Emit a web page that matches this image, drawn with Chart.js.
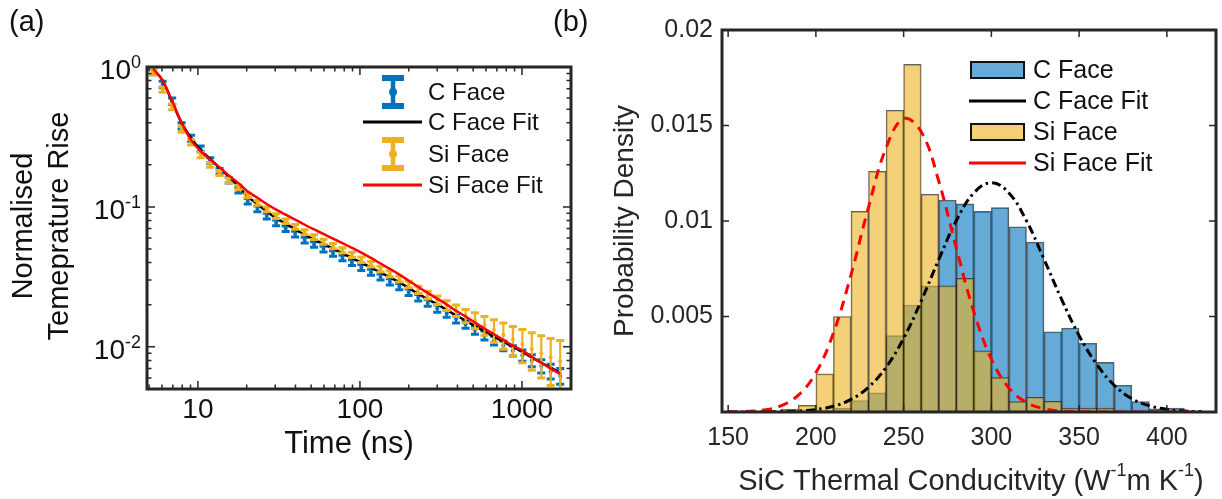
<!DOCTYPE html>
<html>
<head>
<meta charset="utf-8">
<script src="https://cdn.jsdelivr.net/npm/chart.js@4.4.1/dist/chart.umd.min.js"></script>
<style>
  html, body { margin: 0; padding: 0; background: #fff; }
  #wrap { position: relative; width: 1222px; height: 499px; overflow: hidden; }
  #chartA { position: absolute; left: 0; top: 0; }
  #chartB { position: absolute; left: 540px; top: 0; }
</style>
</head>
<body>
<div id="wrap">
  <canvas id="chartA" width="600" height="499"></canvas>
  <canvas id="chartB" width="682" height="499"></canvas>
</div>
<script>
// ---------- panel (a): normalised temperature rise ----------
const timeNs = [5.3, 6.06, 6.94, 7.93, 9.08, 10.4, 11.9, 13.6, 15.5, 17.8,
  20.3, 23.3, 26.6, 30.4, 34.8, 39.8, 45.6, 52.1, 59.6, 68.2,
  78.0, 89.3, 102, 117, 134, 153, 175, 200, 229, 262,
  300, 343, 392, 449, 513, 587, 672, 768, 879, 1006,
  1150, 1316, 1505, 1722];
const cFaceRise = [0.93, 0.75, 0.57, 0.38, 0.31, 0.26, 0.215, 0.18, 0.155, 0.132,
  0.110, 0.097, 0.086, 0.077, 0.070, 0.064, 0.058, 0.054, 0.050, 0.0465,
  0.0432, 0.0400, 0.0370, 0.0342, 0.0316, 0.0292, 0.0270, 0.0246, 0.0225, 0.0206,
  0.0188, 0.0173, 0.0158, 0.0145, 0.0132, 0.0121, 0.0111, 0.0102, 0.0094, 0.0087,
  0.0080, 0.0073, 0.0067, 0.0062];
const cFaceErr = [0.05, 0.04, 0.03, 0.02, 0.015, 0.012, 0.01, 0.008, 0.007, 0.006,
  0.005, 0.0045, 0.004, 0.0035, 0.0032, 0.003, 0.0027, 0.0025, 0.0023, 0.0021,
  0.002, 0.0019, 0.0018, 0.0017, 0.0016, 0.0015, 0.0014, 0.0013, 0.0012, 0.0011,
  0.0011, 0.001, 0.001, 0.0009, 0.0009, 0.0009, 0.0008, 0.0008, 0.0008, 0.0008,
  0.0008, 0.0008, 0.0008, 0.0008];
const siFaceRise = [0.92, 0.69, 0.52, 0.36, 0.29, 0.235, 0.2, 0.175, 0.155, 0.138,
  0.121, 0.107, 0.096, 0.086, 0.079, 0.072, 0.066, 0.061, 0.0565, 0.0525,
  0.049, 0.0455, 0.042, 0.039, 0.036, 0.0332, 0.0306, 0.028, 0.0256, 0.0235,
  0.0216, 0.0198, 0.0182, 0.0167, 0.0155, 0.0143, 0.0132, 0.0122, 0.0113, 0.0105,
  0.0097, 0.0090, 0.0084, 0.0079];
const siFaceErr = [0.04, 0.03, 0.025, 0.018, 0.013, 0.01, 0.008, 0.007, 0.006, 0.005,
  0.0045, 0.004, 0.0037, 0.0034, 0.003, 0.0028, 0.0026, 0.0024, 0.0023, 0.0022,
  0.0021, 0.002, 0.0019, 0.0018, 0.0017, 0.0016, 0.0015, 0.0015, 0.0015, 0.0015,
  0.0015, 0.0016, 0.0017, 0.0018, 0.002, 0.0022, 0.0024, 0.0026, 0.0027, 0.0028,
  0.0029, 0.0030, 0.0031, 0.0032];
const cFaceFitRise = [0.97, 0.80, 0.56, 0.40, 0.31, 0.255, 0.22, 0.19, 0.165, 0.140,
  0.1185, 0.1047, 0.0928, 0.0832, 0.0760, 0.0693, 0.0632, 0.0585, 0.0543, 0.0503,
  0.0467, 0.0432, 0.0400, 0.0369, 0.0340, 0.0314, 0.0289, 0.0263, 0.0239, 0.0219,
  0.0201, 0.0184, 0.0168, 0.0154, 0.0141, 0.0129, 0.0118, 0.0109, 0.0100, 0.0092,
  0.0084, 0.0077, 0.0071, 0.0065];
const siFaceFitRise = [0.97, 0.80, 0.57, 0.40, 0.30, 0.25, 0.218, 0.192, 0.168, 0.148,
  0.129, 0.1162, 0.1049, 0.0957, 0.0882, 0.0811, 0.0746, 0.0690, 0.0641, 0.0594,
  0.0551, 0.0510, 0.0472, 0.0432, 0.0394, 0.0361, 0.0329, 0.0297, 0.0268, 0.0243,
  0.0221, 0.0201, 0.0181, 0.0165, 0.0149, 0.0135, 0.0123, 0.0112, 0.0102, 0.0094,
  0.0085, 0.0077, 0.0070, 0.0064];
const xTicksA = [10, 100, 1000];
const yTicksA = [1, 0.1, 0.01];
const yTickExpA = ["0", "-1", "-2"];

// ---------- panel (b): thermal conductivity histograms ----------
const binCenters = [185, 195, 205, 215, 225, 235, 245, 255, 265, 275, 285, 295,
  305, 315, 325, 335, 345, 355, 365, 375, 385, 395, 405];
const cFaceDensity = [0, 0, 0.0001, 0.0002, 0.0006, 0.001, 0.004, 0.0056, 0.0066, 0.0111,
  0.0109, 0.0105, 0.0107, 0.0097, 0.0089, 0.0042, 0.0044, 0.0036, 0.0026, 0.0014,
  0.00055, 0.00016, 0.0002];
const siFaceDensity = [0.00015, 0.00035, 0.002, 0.005, 0.0105, 0.0126, 0.0158, 0.0182, 0.0114, 0.0066,
  0.007, 0.0032, 0.0018, 0.00054, 0.00077, 0.00056, 0.0002, 0.0002, 0.0002, 0,
  0, 0, 0];
const fitK = [150, 160, 170, 180, 190, 200, 210, 220, 230, 240, 250, 260, 270, 280,
  290, 300, 310, 320, 330, 340, 350, 360, 370, 380, 390, 400, 410, 420];
const cFaceFitDensity = [0, 0, 0.00001, 0.00002, 0.00005, 0.00013, 0.0003, 0.00066, 0.0013, 0.00234,
  0.00386, 0.00581, 0.00798, 0.01001, 0.01147, 0.012, 0.01147, 0.01001, 0.0080, 0.0059,
  0.0040, 0.0025, 0.0014, 0.0007, 0.00033, 0.00014, 0.00005, 0.00002];
const siFaceFitDensity = [0.00001, 0.00003, 0.0001, 0.00032, 0.00088, 0.00205, 0.00414, 0.00718, 0.01073, 0.01383,
  0.01535, 0.01468, 0.01209, 0.00859, 0.00525, 0.00277, 0.00126, 0.00049, 0.00017, 0.00005,
  0.00001, 0, 0, 0, 0, 0, 0, 0];
const xTicksB = [150, 200, 250, 300, 350, 400];
const yTicksB = [0.005, 0.01, 0.015, 0.02];
const yTickLabelsB = ["0.005", "0.01", "0.015", "0.02"];

const FONT = '"Liberation Sans", Arial, Helvetica, sans-serif';
const AXIS = "#262626";
const BLUE = "#0072BD";
const YELLOW = "#EDB120";

function pairs(xs, ys) {
  return xs.map((x, i) => ({ x: x, y: ys[i] }));
}

// draw a vertical error bar set for one dataset
function drawErrorBars(chart, ds) {
  const { ctx, chartArea: a, scales: { x, y } } = chart;
  ctx.save();
  ctx.beginPath();
  ctx.rect(a.left, a.top, a.right - a.left, a.bottom - a.top);
  ctx.clip();
  ctx.strokeStyle = ds.borderColor;
  ctx.fillStyle = ds.borderColor;
  ds.data.forEach((p, i) => {
    const px = x.getPixelForValue(p.x);
    const lo = y.getPixelForValue(Math.max(p.y - ds.errors[i], 1e-5));
    const hi = y.getPixelForValue(p.y + ds.errors[i]);
    ctx.lineWidth = 2.2;
    ctx.beginPath();
    ctx.moveTo(px, lo); ctx.lineTo(px, hi);
    ctx.stroke();
    ctx.lineWidth = 3;
    ctx.beginPath();
    ctx.moveTo(px - 4, lo); ctx.lineTo(px + 4, lo);
    ctx.moveTo(px - 4, hi); ctx.lineTo(px + 4, hi);
    ctx.stroke();
    ctx.beginPath();
    ctx.arc(px, y.getPixelForValue(p.y), 2, 0, Math.PI * 2);
    ctx.fill();
  });
  ctx.restore();
}

function errIcon(ctx, cx, cy, color) {
  ctx.save();
  ctx.strokeStyle = color; ctx.fillStyle = color;
  ctx.lineWidth = 4.5;
  ctx.beginPath();
  ctx.moveTo(cx, cy - 15); ctx.lineTo(cx, cy + 15);
  ctx.stroke();
  ctx.lineWidth = 6;
  ctx.beginPath();
  ctx.moveTo(cx - 11, cy - 14); ctx.lineTo(cx + 11, cy - 14);
  ctx.moveTo(cx - 11, cy + 14); ctx.lineTo(cx + 11, cy + 14);
  ctx.stroke();
  ctx.beginPath();
  ctx.arc(cx, cy, 4, 0, Math.PI * 2);
  ctx.fill();
  ctx.restore();
}

function logTickValues(min, max) {
  const out = [];
  for (let k = Math.floor(Math.log10(min)); k <= Math.ceil(Math.log10(max)); k++) {
    for (let m = 1; m <= 9; m++) {
      const v = m * Math.pow(10, k);
      if (v >= min * 0.999 && v <= max * 1.001) out.push({ v: v, major: m === 1 });
    }
  }
  return out;
}

const panelAPlugin = {
  id: "panelA",
  afterDatasetDraw(chart, args) {
    const ds = chart.data.datasets[args.index];
    if (ds.errors) drawErrorBars(chart, ds);
  },
  afterDraw(chart) {
    const { ctx, chartArea: a, scales: { x, y } } = chart;
    ctx.save();
    ctx.strokeStyle = AXIS;
    ctx.lineWidth = 1.5;
    // inward ticks on all four sides
    logTickValues(x.min, x.max).forEach(t => {
      const px = x.getPixelForValue(t.v);
      const len = t.major ? 8 : 4.5;
      ctx.beginPath();
      ctx.moveTo(px, a.bottom); ctx.lineTo(px, a.bottom - len);
      ctx.moveTo(px, a.top); ctx.lineTo(px, a.top + len);
      ctx.stroke();
    });
    logTickValues(y.min, y.max).forEach(t => {
      const py = y.getPixelForValue(t.v);
      const len = t.major ? 8 : 4.5;
      ctx.beginPath();
      ctx.moveTo(a.left, py); ctx.lineTo(a.left + len, py);
      ctx.moveTo(a.right, py); ctx.lineTo(a.right - len, py);
      ctx.stroke();
    });
    ctx.lineWidth = 3;
    ctx.strokeRect(a.left, a.top, a.right - a.left, a.bottom - a.top);

    // tick labels
    ctx.fillStyle = "#111";
    ctx.font = "28px " + FONT;
    ctx.textAlign = "center";
    ctx.textBaseline = "alphabetic";
    xTicksA.forEach(v => ctx.fillText(String(v), x.getPixelForValue(v), a.bottom + 29));
    yTicksA.forEach((v, i) => {
      const py = y.getPixelForValue(v);
      ctx.font = "18px " + FONT;
      const ws = ctx.measureText(yTickExpA[i]).width;
      ctx.font = "28px " + FONT;
      const wb = ctx.measureText("10").width;
      const right = a.left - 6;
      ctx.textAlign = "left";
      ctx.fillText("10", right - ws - wb, py + 12);
      ctx.font = "18px " + FONT;
      ctx.fillText(yTickExpA[i], right - ws, py + 1);
    });

    // axis titles
    ctx.font = "31px " + FONT;
    ctx.textAlign = "center";
    ctx.fillText("Time (ns)", (a.left + a.right) / 2 - 10, 453);
    ctx.save();
    ctx.translate(0, 226);
    ctx.rotate(-Math.PI / 2);
    ctx.font = "29px " + FONT;
    ctx.textBaseline = "middle";
    ctx.fillText("Normalised", 0, 24);
    ctx.fillText("Temeprature Rise", 0, 60);
    ctx.restore();

    // panel label
    ctx.font = "29px " + FONT;
    ctx.textAlign = "left";
    ctx.textBaseline = "middle";
    ctx.fillText("(a)", 9, 23);

    // legend
    const ds = chart.data.datasets;
    const rows = [92, 122, 154, 185];
    ctx.font = "24px " + FONT;
    ds.forEach((d, i) => {
      const cy = rows[i];
      if (d.errors) {
        errIcon(ctx, 393, cy, d.borderColor);
      } else {
        ctx.strokeStyle = d.borderColor;
        ctx.lineWidth = 3;
        ctx.beginPath();
        ctx.moveTo(363, cy); ctx.lineTo(422, cy);
        ctx.stroke();
      }
      ctx.fillStyle = "#111";
      ctx.fillText(d.label, 428, cy + 1);
    });
    ctx.restore();
  }
};

new Chart(document.getElementById("chartA"), {
  type: "line",
  data: {
    datasets: [
      { label: "C Face", data: pairs(timeNs, cFaceRise), errors: cFaceErr,
        showLine: false, pointRadius: 0, borderColor: BLUE, order: 4 },
      { label: "C Face Fit", data: pairs(timeNs, cFaceFitRise),
        borderColor: "#000000", borderWidth: 2.5, pointRadius: 0, tension: 0.35, order: 3 },
      { label: "Si Face", data: pairs(timeNs, siFaceRise), errors: siFaceErr,
        showLine: false, pointRadius: 0, borderColor: YELLOW, order: 2 },
      { label: "Si Face Fit", data: pairs(timeNs, siFaceFitRise),
        borderColor: "#FF0000", borderWidth: 2.5, pointRadius: 0, tension: 0.35, order: 1 }
    ]
  },
  options: {
    responsive: false,
    animation: false,
    events: [],
    layout: { padding: { top: 67, right: 29, left: 0, bottom: 0 } },
    plugins: { legend: { display: false }, tooltip: { enabled: false } },
    scales: {
      x: { type: "logarithmic", min: 4.85, max: 2008,
        ticks: { display: false }, grid: { display: false }, border: { display: false },
        afterFit: s => { s.height = 110; } },
      y: { type: "logarithmic", min: 0.005, max: 1,
        ticks: { display: false }, grid: { display: false }, border: { display: false },
        afterFit: s => { s.width = 147; } }
    }
  },
  plugins: [panelAPlugin]
});

// ---------- panel (b) ----------
function drawSupText(ctx, parts, cx, baseline, size) {
  // parts: [text, isSup]
  const supSize = Math.round(size * 0.62);
  let total = 0;
  parts.forEach(p => {
    ctx.font = (p[1] ? supSize : size) + "px " + FONT;
    total += ctx.measureText(p[0]).width;
  });
  let xx = cx - total / 2;
  ctx.textAlign = "left";
  parts.forEach(p => {
    ctx.font = (p[1] ? supSize : size) + "px " + FONT;
    ctx.fillText(p[0], xx, p[1] ? baseline - size * 0.5 : baseline);
    xx += ctx.measureText(p[0]).width;
  });
}

const panelBPlugin = {
  id: "panelB",
  afterDraw(chart) {
    const { ctx, chartArea: a, scales: { x, y } } = chart;
    ctx.save();
    ctx.strokeStyle = AXIS;
    ctx.lineWidth = 1.5;
    xTicksB.forEach(v => {
      const px = x.getPixelForValue(v);
      ctx.beginPath();
      ctx.moveTo(px, a.bottom); ctx.lineTo(px, a.bottom - 7);
      ctx.moveTo(px, a.top); ctx.lineTo(px, a.top + 7);
      ctx.stroke();
    });
    yTicksB.forEach(v => {
      const py = y.getPixelForValue(v);
      ctx.beginPath();
      ctx.moveTo(a.left, py); ctx.lineTo(a.left + 7, py);
      ctx.moveTo(a.right, py); ctx.lineTo(a.right - 7, py);
      ctx.stroke();
    });
    ctx.lineWidth = 3;
    ctx.strokeRect(a.left, a.top, a.right - a.left, a.bottom - a.top);

    ctx.fillStyle = "#262626";
    ctx.font = "25px " + FONT;
    ctx.textAlign = "center";
    ctx.textBaseline = "alphabetic";
    xTicksB.forEach(v => ctx.fillText(String(v), x.getPixelForValue(v), a.bottom + 33));
    ctx.textAlign = "right";
    ctx.textBaseline = "middle";
    yTicksB.forEach((v, i) => ctx.fillText(yTickLabelsB[i], a.left - 9, y.getPixelForValue(v)));

    // x title with superscripts
    ctx.textBaseline = "alphabetic";
    drawSupText(ctx, [["SiC Thermal Conducitvity (W", false], ["-1", true], ["m K", false], ["-1", true], [")", false]],
      (a.left + a.right) / 2 + 2, 490, 29);

    // y title
    ctx.save();
    ctx.translate(85, (a.top + a.bottom) / 2);
    ctx.rotate(-Math.PI / 2);
    ctx.font = "28px " + FONT;
    ctx.textAlign = "center";
    ctx.textBaseline = "middle";
    ctx.fillText("Probability Density", 0, 0);
    ctx.restore();

    // panel label
    ctx.font = "29px " + FONT;
    ctx.textAlign = "left";
    ctx.textBaseline = "middle";
    ctx.fillStyle = "#111";
    ctx.fillText("(b)", 13, 23);

    // legend
    const ds = chart.data.datasets;
    const rows = [70, 101, 132, 163];
    const lx = 971 - 540;
    ctx.font = "25px " + FONT;
    ds.forEach((d, i) => {
      const cy = rows[i];
      if (d.type === "line") {
        ctx.strokeStyle = d.borderColor;
        ctx.lineWidth = 3;
        ctx.setLineDash([]);
        ctx.beginPath();
        ctx.moveTo(lx - 2, cy); ctx.lineTo(lx + 55, cy);
        ctx.stroke();
      } else {
        ctx.fillStyle = d.backgroundColor;
        ctx.fillRect(lx, cy - 8, 53, 16);
        ctx.strokeStyle = "#111";
        ctx.lineWidth = 2;
        ctx.strokeRect(lx, cy - 8, 53, 16);
      }
      ctx.fillStyle = "#111";
      ctx.fillText(d.label, lx + 62, cy + 1);
    });
    ctx.restore();
  }
};

new Chart(document.getElementById("chartB"), {
  type: "bar",
  data: {
    datasets: [
      { label: "C Face", data: pairs(binCenters, cFaceDensity.map(v => v || null)),
        backgroundColor: "rgba(0,114,189,0.6)", borderColor: "rgba(30,30,30,0.7)",
        borderWidth: 1, borderSkipped: false, grouped: false,
        barPercentage: 1, categoryPercentage: 1, order: 4 },
      { label: "C Face Fit", type: "line", data: pairs(fitK, cFaceFitDensity),
        borderColor: "#000000", borderWidth: 3, borderDash: [9, 4, 2.5, 4],
        pointRadius: 0, tension: 0.4, order: 2 },
      { label: "Si Face", data: pairs(binCenters, siFaceDensity.map(v => v || null)),
        backgroundColor: "rgba(237,177,32,0.6)", borderColor: "rgba(30,30,30,0.7)",
        borderWidth: 1, borderSkipped: false, grouped: false,
        barPercentage: 1, categoryPercentage: 1, order: 3 },
      { label: "Si Face Fit", type: "line", data: pairs(fitK, siFaceFitDensity),
        borderColor: "#FF0000", borderWidth: 3, borderDash: [10, 7],
        pointRadius: 0, tension: 0.4, order: 1 }
    ]
  },
  options: {
    responsive: false,
    animation: false,
    events: [],
    layout: { padding: { top: 30, right: 6, left: 0, bottom: 0 } },
    plugins: { legend: { display: false }, tooltip: { enabled: false } },
    scales: {
      x: { type: "linear", min: 146.5, max: 428, offset: false,
        ticks: { display: false }, grid: { display: false }, border: { display: false },
        afterFit: s => { s.height = 87; } },
      y: { type: "linear", min: 0, max: 0.02,
        ticks: { display: false }, grid: { display: false }, border: { display: false },
        afterFit: s => { s.width = 182; } }
    }
  },
  plugins: [panelBPlugin]
});
</script>
</body>
</html>
